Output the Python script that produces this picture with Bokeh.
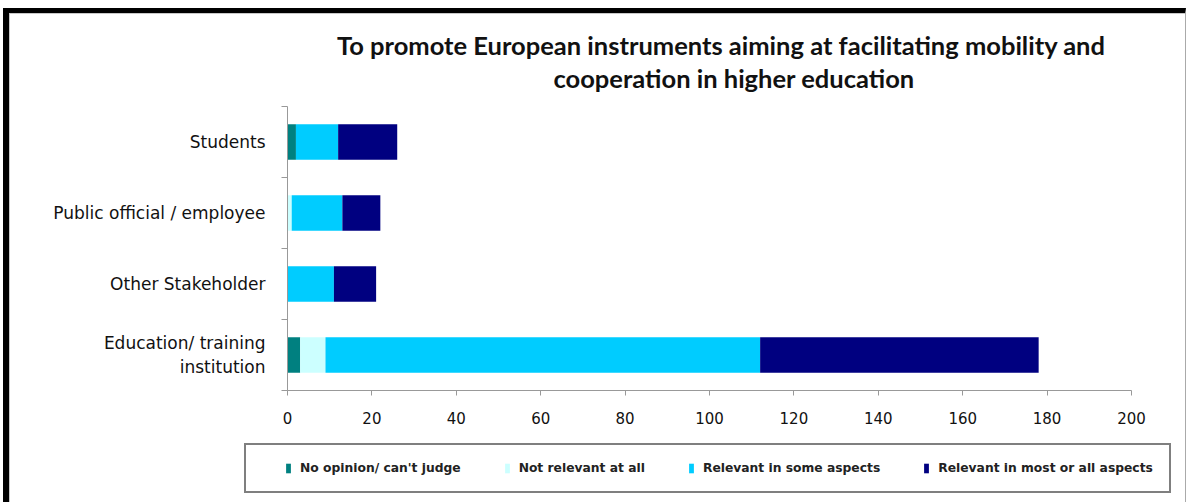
from bokeh.plotting import figure
from bokeh.layouts import column
from bokeh.models import (Range1d, FixedTicker, Legend, LegendItem, Title,
                          ColumnDataSource)
from bokeh.embed import file_html
from bokeh.resources import INLINE

# ---------------- data ----------------
categories = ["Education/ training\ninstitution", "Other Stakeholder",
              "Public official / employee", "Students"]
no_opinion = [3, 0, 0, 2]
not_relevant = [6, 0, 1, 0]
relevant_some = [103, 11, 12, 10]
relevant_most = [66, 10, 9, 14]
series_names = ["No opinion/ can't judge", "Not relevant at all",
                "Relevant in some aspects", "Relevant in most or all aspects"]
series_colors = ["#008080", "#CCFFFF", "#00CCFF", "#000080"]
x_ticks = [0, 20, 40, 60, 80, 100, 120, 140, 160, 180, 200]
title_lines = ["To promote European instruments aiming at facilitating mobility and",
               "cooperation in higher education"]

# category slots on a numeric axis (one unit per category)
cat_pos = [i + 0.5 for i in range(len(categories))]
boundaries = [i for i in range(len(categories) + 1)]

source = ColumnDataSource(dict(
    y=cat_pos,
    no_opinion=no_opinion,
    not_relevant=not_relevant,
    relevant_some=relevant_some,
    relevant_most=relevant_most,
))
stackers = ["no_opinion", "not_relevant", "relevant_some", "relevant_most"]

p = figure(width=1176, height=426,
           x_range=Range1d(0, 200), y_range=Range1d(0, len(categories)),
           output_backend="svg", toolbar_location=None,
           min_border_left=277, min_border_right=55,
           min_border_top=92, min_border_bottom=50)
p.frame_align = False
p.styles = {"border-top": "1px solid #c8c8c8", "border-left": "1px solid #c8c8c8"}
p.background_fill_color = "white"
p.border_fill_color = "white"
p.outline_line_color = None
p.xgrid.grid_line_color = None
p.ygrid.grid_line_color = None

renderers = p.hbar_stack(stackers, y="y", height=0.5, color=series_colors,
                         line_color=None, source=source)

# x axis
xa = p.xaxis[0]
xa.ticker = FixedTicker(ticks=x_ticks, minor_ticks=[])
xa.axis_line_color = "#999999"
xa.major_tick_line_color = "#999999"
xa.major_tick_in = 0
xa.major_tick_out = 5
xa.minor_tick_line_color = None
xa.major_label_text_font = "DejaVu Sans"
xa.major_label_text_font_size = "15px"
xa.major_label_text_color = "#111111"
xa.major_label_standoff = 16

# y axis
ya = p.yaxis[0]
ya.ticker = FixedTicker(ticks=cat_pos, minor_ticks=boundaries)
ya.major_label_overrides = {pos: lab for pos, lab in zip(cat_pos, categories)}
ya.axis_line_color = "#999999"
ya.major_tick_line_color = None
ya.major_tick_in = 0
ya.major_tick_out = 0
ya.minor_tick_line_color = "#999999"
ya.minor_tick_in = 0
ya.minor_tick_out = 6
ya.major_label_text_font = "DejaVu Sans"
ya.major_label_text_font_size = "17px"
ya.major_label_text_color = "#111111"
ya.major_label_standoff = 16

# titles (second line first: it sits closest to the frame)
t2 = Title(text=title_lines[1], align="left", offset=266, standoff=28,
           text_font="Lato", text_font_size="25.5px", text_font_style="bold",
           text_color="#111111")
t1 = Title(text=title_lines[0], align="left", offset=49.5, standoff=-27,
           text_font="Lato", text_font_size="25.5px", text_font_style="bold",
           text_color="#111111")
p.add_layout(t2, "above")
p.add_layout(t1, "above")

# legend strip below the chart (its swatch renderers sit outside its view)
pl = figure(width=1176, height=63, x_range=Range1d(0, 200), y_range=Range1d(100, 101),
            x_axis_type=None, y_axis_type=None, output_backend="svg",
            toolbar_location=None, min_border=0)
pl.frame_align = False
pl.styles = {"border-left": "1px solid #c8c8c8"}
pl.outline_line_color = None
pl.xgrid.grid_line_color = None
pl.ygrid.grid_line_color = None
pl.background_fill_color = "white"
pl.border_fill_color = "white"
swatches = pl.hbar_stack(stackers, y="y", height=0.5, color=series_colors,
                         line_color=None, source=source)

legend = Legend(items=[LegendItem(label=n, renderers=[r])
                       for n, r in zip(series_names, swatches)],
                orientation="horizontal", location=(234, 9), margin=0,
                padding=16, spacing=43, label_height=12, glyph_height=12,
                glyph_width=6, label_standoff=9,
                title="\u00a0", title_location="left", title_standoff=22,
                title_text_font_size="1px",
                label_text_font="DejaVu Sans", label_text_font_size="12.3px",
                label_text_font_style="bold", label_text_color="#222222",
                border_line_color="black", border_line_width=2,
                background_fill_color="white", background_fill_alpha=1)
pl.add_layout(legend, "center")

layout = column(p, pl, spacing=0)
layout.styles = {"margin-top": "8px", "margin-left": "3px",
                 "border-top": "5px solid black", "border-left": "6px solid black",
                 "border-right": "1px solid #aaaaaa"}

open("out.html", "w").write(file_html(layout, INLINE))
